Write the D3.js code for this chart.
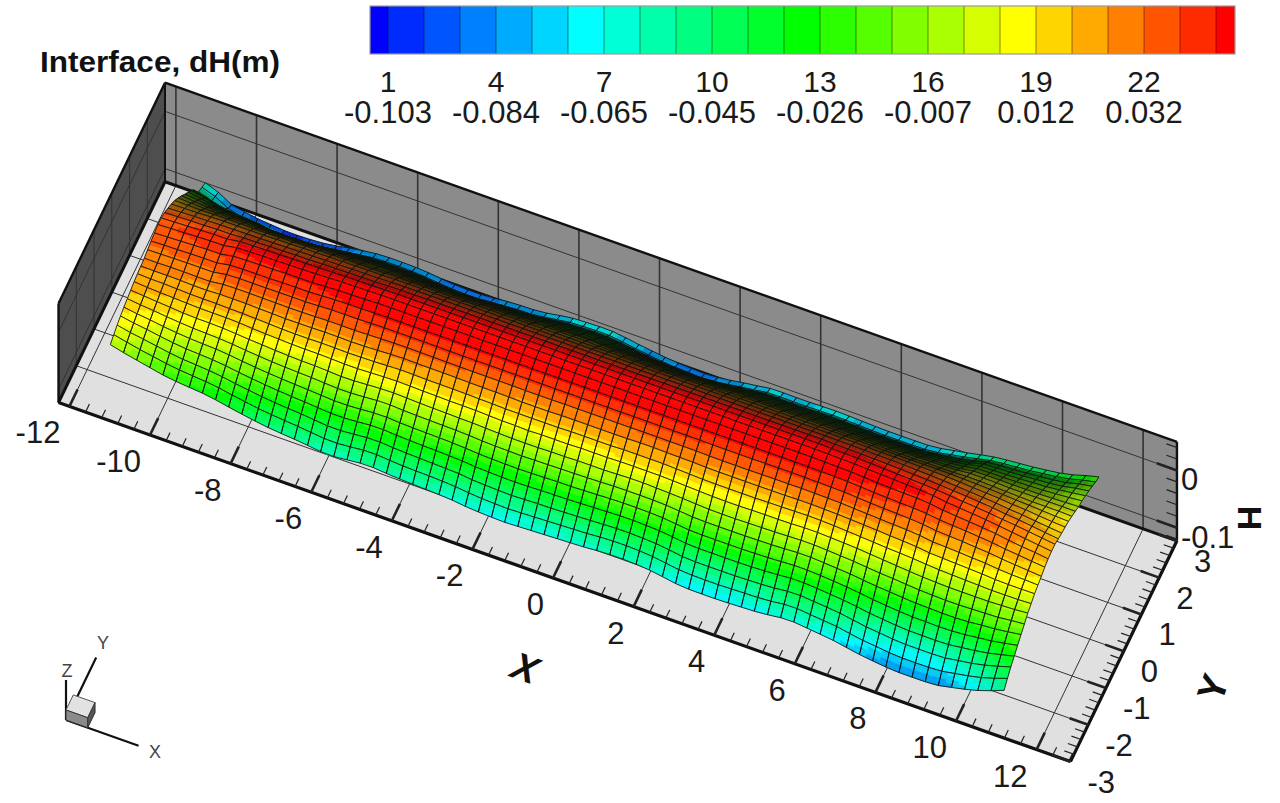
<!DOCTYPE html>
<html>
<head>
<meta charset="utf-8">
<script src="https://cdn.jsdelivr.net/npm/d3@7"></script>
<style>
  html, body { margin: 0; padding: 0; background: #fff; }
  svg { display: block; }
  text { font-family: "Liberation Sans", Arial, sans-serif; }
</style>
</head>
<body>
<svg id="app" width="1280" height="803"></svg>
<script>
// contour levels shown in the legend
const levelNumbers = [1, 4, 7, 10, 13, 16, 19, 22];
const levelLabels = ["-0.103", "-0.084", "-0.065", "-0.045", "-0.026", "-0.007", "0.012", "0.032"];
const levelValues = [-0.103, -0.0966, -0.0902, -0.0838, -0.0773, -0.0709, -0.0645, -0.0581, -0.0516, -0.0452, -0.0388, -0.0324, -0.0259, -0.0195, -0.0131, -0.0067, -0.0002, 0.0062, 0.0126, 0.0191, 0.0255, 0.0319, 0.0383, 0.0448];

const xTicks = [-12, -10, -8, -6, -4, -2, 0, 2, 4, 6, 8, 10, 12];
const yTicks = [-3, -2, -1, 0, 1, 2, 3];
const zTicks = [0, -0.1];

const meshX = d3.range(67).map(i => -11.05 + i * 0.336);
const meshY = d3.range(25).map(j => -2.85 + j * 0.2229);

const h00 = [-1,-7,-12,-17,-22,-25,-27,-29,-33,-38,-42,-46,-49,-51,-53,-56,-59,-57,-54,-52,-54,-56,-57,-58,-59,-60,-63,-65,-66,-67,-66,-65,-64,-63,-62,-61,-59,-58,-58,-59,-61,-65,-69,-70,-70,-70,-69,-68,-67,-64,-61,-63,-66,-68,-72,-77,-80,-83,-85,-85,-85,-84,-79,-74,-68,-60,-51];
const h01 = [5,0,-5,-9,-13,-16,-18,-20,-23,-28,-31,-35,-37,-39,-41,-44,-46,-45,-42,-40,-42,-44,-45,-45,-46,-47,-50,-52,-53,-54,-53,-52,-51,-50,-49,-48,-46,-45,-45,-46,-48,-52,-55,-56,-56,-56,-55,-54,-54,-51,-48,-50,-53,-54,-58,-63,-65,-68,-70,-70,-70,-69,-65,-61,-56,-49,-41];
const h02 = [10,5,2,-2,-6,-9,-10,-12,-15,-19,-22,-25,-27,-29,-30,-33,-35,-33,-31,-29,-31,-32,-33,-34,-35,-35,-38,-39,-40,-41,-40,-39,-39,-38,-37,-36,-35,-34,-34,-35,-36,-39,-43,-43,-43,-43,-43,-42,-41,-39,-36,-38,-40,-42,-45,-50,-52,-55,-57,-57,-57,-57,-53,-50,-45,-39,-32];
const h03 = [14,10,7,3,0,-2,-3,-4,-7,-10,-13,-15,-17,-19,-20,-22,-23,-22,-20,-18,-20,-21,-22,-22,-23,-24,-26,-27,-28,-28,-28,-27,-26,-26,-25,-24,-23,-22,-22,-23,-24,-27,-30,-30,-30,-30,-30,-29,-28,-26,-25,-26,-28,-30,-32,-36,-39,-41,-43,-43,-44,-43,-41,-38,-35,-30,-25];
const h04 = [17,14,12,9,7,5,4,3,1,-2,-4,-6,-7,-8,-9,-11,-12,-11,-9,-7,-9,-10,-10,-11,-11,-12,-14,-15,-15,-16,-15,-15,-14,-14,-13,-12,-11,-11,-11,-11,-12,-15,-17,-17,-17,-17,-17,-16,-16,-14,-13,-14,-16,-17,-20,-23,-25,-27,-29,-29,-30,-30,-29,-26,-24,-21,-17];
const h05 = [20,18,16,14,12,11,11,10,8,6,5,3,2,1,1,-1,-2,0,1,3,2,1,0,0,-1,-1,-2,-3,-4,-4,-4,-3,-3,-2,-2,-2,-1,0,0,-1,-2,-3,-5,-6,-6,-6,-5,-5,-4,-3,-2,-3,-5,-6,-8,-11,-12,-14,-16,-17,-18,-18,-17,-16,-15,-12,-10];
const h06 = [23,21,20,19,18,17,17,17,16,14,13,12,11,11,11,10,9,10,11,12,12,11,11,10,10,10,9,8,8,7,8,8,8,9,9,9,10,10,10,10,9,8,7,6,6,6,7,7,7,8,9,8,7,6,4,2,0,-2,-4,-5,-6,-6,-6,-6,-5,-4,-2];
const h07 = [25,24,24,23,22,22,22,21,21,20,19,18,18,18,19,18,18,19,19,21,21,20,20,20,20,19,19,18,18,18,18,18,19,19,19,19,20,20,20,20,19,18,17,17,17,17,17,18,18,19,19,18,17,15,14,12,11,10,8,6,5,4,3,2,2,2,3];
const h08 = [26,26,26,26,25,25,27,27,27,26,26,25,26,26,27,26,26,27,28,30,29,29,29,29,28,28,28,28,27,27,27,28,28,28,28,28,28,29,29,28,28,28,27,27,27,27,27,27,27,28,27,27,26,25,24,22,21,20,16,15,14,13,12,10,9,9,9];
const h09 = [28,28,29,29,29,29,34,34,34,34,34,34,34,35,36,35,36,37,37,37,37,37,36,36,36,36,36,36,36,36,36,36,36,36,36,36,36,36,36,36,36,36,35,35,35,35,36,36,36,36,35,35,34,32,31,30,29,28,24,23,22,20,19,16,14,13,11];
const h10 = [32,33,33,34,34,34,39,39,39,39,40,40,40,42,43,43,43,44,44,44,44,44,44,44,44,44,44,44,44,44,44,44,44,44,44,44,44,44,44,44,44,44,44,44,44,44,44,44,44,44,43,43,42,40,39,38,37,36,33,31,30,28,26,23,21,18,16];
const h11 = [34,35,36,37,38,38,43,43,44,44,45,45,45,47,48,48,49,50,50,50,50,50,50,50,50,50,50,50,50,50,50,50,50,50,50,50,50,50,50,50,50,50,50,50,50,50,50,50,50,50,49,49,48,46,45,44,44,43,39,37,35,33,31,27,24,22,19];
const h12 = [37,38,39,40,41,41,46,46,47,47,48,48,49,50,51,51,52,52,52,52,52,52,52,52,52,52,52,52,52,52,52,52,52,52,52,52,52,52,52,52,52,52,52,52,52,52,52,52,52,52,51,51,50,49,48,47,46,45,41,39,37,35,32,29,26,23,20];
const h13 = [36,37,38,39,40,40,44,44,45,45,46,46,47,47,48,48,48,49,49,49,49,49,49,49,49,49,49,49,49,49,49,49,49,49,49,49,49,49,49,49,49,49,49,49,49,49,49,49,49,49,48,48,47,46,45,44,43,42,40,38,36,34,31,29,26,23,20];
const h14 = [32,33,34,34,35,35,36,36,37,37,38,38,39,39,40,40,41,42,42,43,43,43,43,43,43,43,43,43,43,43,43,43,43,43,43,43,43,43,43,43,43,43,43,43,43,43,43,43,43,43,42,42,41,41,40,39,38,37,35,34,32,30,27,25,22,19,16];
const h15 = [26,27,28,29,30,30,30,30,31,31,32,32,33,33,34,34,34,35,35,35,35,35,35,35,35,35,35,35,35,35,35,35,35,35,35,35,35,35,35,35,35,35,35,35,35,35,35,35,35,35,35,35,34,34,34,33,32,31,30,28,26,25,22,21,18,16,14];
const h16 = [20,20,20,21,21,21,21,21,22,22,23,23,24,24,24,24,25,25,25,25,24,25,25,25,25,25,25,25,25,25,25,25,25,25,25,25,25,25,25,25,25,25,25,25,25,25,25,25,25,25,25,25,24,24,24,24,24,24,23,22,21,20,18,17,15,13,12];
const h17 = [11,10,9,9,9,9,8,8,9,9,10,11,11,11,11,11,12,12,12,12,12,12,12,13,13,13,13,14,14,14,14,13,13,13,12,12,12,12,12,13,13,13,14,14,14,14,14,14,14,13,13,13,12,12,12,12,12,12,13,13,12,11,10,9,9,9,8];
const h18 = [1,-1,-3,-4,-4,-4,-6,-6,-6,-6,-4,-3,-2,-2,-1,-1,-1,-1,-2,-2,-2,-2,-1,-1,-1,0,0,1,1,2,2,1,0,0,-1,-1,-2,-2,-1,-1,0,1,1,1,1,1,1,1,1,1,0,0,0,0,0,1,1,2,5,5,5,4,4,4,4,4,4];
const h19 = [-10,-12,-16,-17,-18,-18,-22,-22,-21,-21,-19,-18,-17,-16,-15,-15,-15,-16,-17,-17,-17,-16,-16,-15,-15,-15,-13,-12,-12,-12,-12,-13,-14,-15,-16,-16,-16,-17,-16,-15,-14,-13,-12,-12,-12,-12,-12,-12,-12,-13,-13,-13,-13,-13,-13,-12,-11,-10,-5,-4,-4,-4,-4,-4,-3,-2,-1];
const h20 = [-20,-24,-30,-32,-33,-34,-38,-38,-37,-37,-35,-32,-31,-30,-29,-29,-30,-30,-32,-32,-33,-32,-31,-30,-30,-29,-27,-25,-25,-24,-24,-26,-28,-29,-30,-31,-32,-32,-31,-30,-28,-27,-25,-25,-25,-25,-25,-25,-25,-26,-26,-26,-26,-26,-26,-24,-22,-20,-14,-13,-13,-12,-11,-10,-8,-6,-3];
const h21 = [-31,-36,-45,-47,-49,-51,-55,-55,-54,-53,-50,-47,-45,-44,-44,-44,-44,-45,-47,-47,-48,-47,-46,-44,-44,-43,-41,-38,-38,-37,-37,-39,-41,-43,-45,-46,-47,-47,-46,-44,-42,-40,-38,-38,-38,-38,-38,-38,-38,-39,-40,-40,-40,-40,-39,-36,-34,-31,-24,-23,-22,-21,-19,-18,-15,-11,-8];
const h22 = [-52,-60,-62,-64,-66,-67,-71,-71,-70,-69,-66,-62,-60,-58,-58,-58,-58,-60,-62,-63,-64,-62,-61,-59,-59,-58,-55,-52,-51,-50,-50,-52,-55,-58,-60,-61,-62,-63,-61,-59,-56,-54,-51,-52,-52,-52,-51,-51,-52,-52,-53,-53,-53,-53,-52,-49,-46,-42,-34,-32,-31,-29,-27,-25,-22,-16,-12];
const h23 = [-57,-65,-78,-85,-89,-92,-93,-93,-92,-90,-86,-79,-76,-73,-73,-73,-74,-76,-79,-80,-81,-79,-77,-75,-75,-73,-69,-65,-64,-63,-63,-66,-70,-73,-76,-78,-79,-80,-78,-75,-71,-68,-64,-65,-65,-65,-64,-64,-65,-66,-67,-67,-67,-67,-66,-61,-57,-52,-46,-43,-41,-39,-36,-33,-29,-23,-18];
const h24 = [-62,-71,-85,-89,-93,-95,-97,-97,-96,-94,-90,-85,-82,-79,-79,-79,-80,-82,-85,-86,-87,-85,-83,-81,-81,-79,-75,-71,-70,-69,-69,-72,-76,-79,-82,-84,-85,-86,-84,-81,-77,-74,-70,-71,-71,-71,-70,-70,-71,-72,-73,-73,-73,-73,-72,-67,-63,-58,-53,-50,-48,-46,-43,-40,-35,-28,-22];
const rows = [h00,h01,h02,h03,h04,h05,h06,h07,h08,h09,h10,h11,h12,h13,h14,h15,h16,h17,h18,h19,h20,h21,h22,h23,h24];

const xMin = -12.27, xMax = 12.84, yMin = -3, yMax = 3, zMin = -0.123, zMax = 0.05;

// oblique view: each axis adds its own screen offset
const xToPx = d3.scaleLinear().domain([-12, 12]).range([69.4, 1036.6]);
const xToPy = d3.scaleLinear().domain([-12, 12]).range([406.4, 749.6]);
const yToPx = d3.scaleLinear().domain([-3, 3]).range([0, 106.5]);
const yToPy = d3.scaleLinear().domain([-3, 3]).range([0, -220.8]);
const zToPy = d3.scaleLinear().domain([zMin, zMax]).range([0, -99]);
const project = (x, y, z) => [xToPx(x) + yToPx(y), xToPy(x) + yToPy(y) + zToPy(z)];

// 25 flood bands: blue, cyan, green, yellow, red
const rainbow = d3.scaleLinear().domain([0, 6, 12, 18, 24])
  .range(["#0000ff", "#00ffff", "#00ff00", "#ffff00", "#ff0000"]);
const bandOf = h => d3.bisectRight(levelValues, h);

const svg = d3.select("#app");
const line = d3.line();
const poly = pts => line(pts) + "Z";

const root = svg.append("g");

// ---- walls and floor
const box = root.append("g");
box.append("path")
  .attr("d", poly([project(xMin, yMin, zMin), project(xMin, yMax, zMin), project(xMin, yMax, zMax), project(xMin, yMin, zMax)]))
  .attr("fill", "#4e4e4e");
box.append("path")
  .attr("d", poly([project(xMin, yMax, zMin), project(xMax, yMax, zMin), project(xMax, yMax, zMax), project(xMin, yMax, zMax)]))
  .attr("fill", "#8b8b8b");
box.append("path")
  .attr("d", poly([project(xMin, yMin, zMin), project(xMax, yMin, zMin), project(xMax, yMax, zMin), project(xMin, yMax, zMin)]))
  .attr("fill", "#e0e0e0");

const gridLine = (a, b, w) => box.append("path")
  .attr("d", line([a, b])).attr("fill", "none").attr("stroke", "#333").attr("stroke-width", w);

xTicks.forEach(x => {
  gridLine(project(x, yMin, zMin), project(x, yMax, zMin), 1);
  gridLine(project(x, yMax, zMin), project(x, yMax, zMax), 1.6);
});
yTicks.forEach(y => {
  gridLine(project(xMin, y, zMin), project(xMax, y, zMin), 1);
  gridLine(project(xMin, y, zMin), project(xMin, y, zMax), 1);
});
zTicks.forEach(z => {
  gridLine(project(xMin, yMax, z), project(xMax, yMax, z), 1);
  gridLine(project(xMin, yMin, z), project(xMin, yMax, z), 1);
});

// thick frame edges
[
  [[xMin, yMin, zMin], [xMax, yMin, zMin], 3.2],
  [[xMax, yMin, zMin], [xMax, yMax, zMin], 3.2],
  [[xMin, yMin, zMin], [xMin, yMax, zMin], 3],
  [[xMin, yMax, zMin], [xMax, yMax, zMin], 3],
  [[xMin, yMin, zMax], [xMin, yMax, zMax], 2.4],
  [[xMin, yMax, zMax], [xMax, yMax, zMax], 2.4],
  [[xMin, yMin, zMin], [xMin, yMin, zMax], 2.4],
  [[xMin, yMax, zMin], [xMin, yMax, zMax], 2],
  [[xMax, yMax, zMin], [xMax, yMax, zMax], 2.4]
].forEach(e => box.append("path")
  .attr("d", line([project(...e[0]), project(...e[1])]))
  .attr("stroke", "#111").attr("stroke-width", e[2]).attr("fill", "none"));

// ---- ticks
const ticks = root.append("g").attr("stroke", "#222").attr("fill", "none");
const addTick = (a, b, w) => ticks.append("path").attr("d", line([a, b])).attr("stroke-width", w);

d3.range(-12, 12.84, 0.4).forEach(x => {
  const major = Math.abs(x / 2 - Math.round(x / 2)) < 0.01;
  addTick(project(x, yMin, zMin), project(x, yMin + (major ? 0.46 : 0.22), zMin), major ? 2.6 : 1.2);
});
d3.range(-3, 3.01, 0.2).forEach(y => {
  const major = Math.abs(y - Math.round(y)) < 0.01;
  addTick(project(xMax, y, zMin), project(xMax - (major ? 0.46 : 0.24), y, zMin), major ? 2.6 : 1.2);
});
d3.range(-0.12, 0.05, 0.02).forEach(z => {
  const major = Math.abs(z) < 0.001 || Math.abs(z + 0.1) < 0.001;
  addTick(project(xMax, yMax, z), project(xMax - (major ? 0.5 : 0.26), yMax, z), major ? 2.6 : 1.2);
});

// ---- surface
const nx = meshX.length, ny = meshY.length;
const H = (i, j) => rows[j][i] / 1000;
const zAspect = 29.2;                       // H unit in the same length as one x,y unit
const light = [0.06, -0.36, 0.93];

// lighting per station, from the slope of the surface
const shade = rows.map((r, j) => r.map((v, i) => {
  const i0 = Math.max(i - 1, 0), i1 = Math.min(i + 1, nx - 1);
  const j0 = Math.max(j - 1, 0), j1 = Math.min(j + 1, ny - 1);
  const gx = (H(i1, j) - H(i0, j)) / (meshX[i1] - meshX[i0]) * zAspect;
  const gy = (H(i, j1) - H(i, j0)) / (meshY[j1] - meshY[j0]) * zAspect;
  const dot = (-gx * light[0] - gy * light[1] + light[2]) / Math.sqrt(gx * gx + gy * gy + 1);
  return Math.max(0.16, Math.min(1, (dot - 0.02) / 0.76));
}));

// read a table of stations at any x, y
const at = (table, x, y) => {
  const i = Math.min(Math.max(d3.bisectRight(meshX, x) - 1, 0), nx - 2);
  const j = Math.min(Math.max(d3.bisectRight(meshY, y) - 1, 0), ny - 2);
  const u = (x - meshX[i]) / (meshX[i + 1] - meshX[i]);
  const v = (y - meshY[j]) / (meshY[j + 1] - meshY[j]);
  return (table(i, j) * (1 - u) + table(i + 1, j) * u) * (1 - v) + (table(i, j + 1) * (1 - u) + table(i + 1, j + 1) * u) * v;
};
const heightAt = (x, y) => at(H, x, y);
const shadeAt = (x, y) => at((i, j) => shade[j][i], x, y);

// the wire mesh of the plot is a bit finer than the read-off table
const wireNx = 68, wireNy = 28;
const wireX = d3.scaleLinear().domain([0, wireNx]).range([meshX[0], meshX[nx - 1]]);
const wireY = d3.scaleLinear().domain([0, wireNy]).range([meshY[0], meshY[ny - 1]]);
const rimY = meshY[ny - 2], yTop = meshY[ny - 1];

const subX = 2, subY = 4;
const shapes = [];

// back to front, one row at a time: fills first, then that row's mesh lines
for (let j = wireNy - 1; j >= 0; j--) {
  const outlines = [];
  const y0 = wireY(j), y1 = wireY(j + 1);
  for (let i = 0; i < wireNx; i++) {
    const x0 = wireX(i), x1 = wireX(i + 1);
    const pt = (u, v) => {
      const x = x0 + (x1 - x0) * u, y = y0 + (y1 - y0) * v;
      return project(x, y, heightAt(x, y));
    };
    for (let b = subY - 1; b >= 0; b--) {
      for (let a = 0; a < subX; a++) {
        const mx = x0 + (x1 - x0) * (a + 0.5) / subX, my = y0 + (y1 - y0) * (b + 0.5) / subY;
        const rim = my > rimY;
        const h = heightAt(mx, rim ? yTop : my);
        // the rim stays lit in the original, also the few rows at the raised back corner
        let s = shadeAt(mx, my);
        if (rim) s = 0.82;
        else if (my > meshY[ny - 4] && mx < meshX[6]) s = 0.65;
        const c = d3.rgb(rainbow(bandOf(h)));
        const col = d3.rgb(c.r * s, c.g * s, c.b * s).formatHex();
        shapes.push({
          d: poly([pt(a / subX, b / subY), pt((a + 1) / subX, b / subY), pt((a + 1) / subX, (b + 1) / subY), pt(a / subX, (b + 1) / subY)]),
          fill: col, stroke: col, w: 0.5
        });
      }
    }
    outlines.push({ d: poly([pt(0, 0), pt(1, 0), pt(1, 1), pt(0, 1)]), fill: "none", stroke: "#111", w: 0.85 });
  }
  shapes.push(...outlines);
}

root.append("g").selectAll("path").data(shapes).join("path")
  .attr("d", d => d.d)
  .attr("fill", d => d.fill)
  .attr("stroke", d => d.stroke)
  .attr("stroke-width", d => d.w)
  .attr("stroke-linejoin", "round");

// ---- tick labels
const labels = root.append("g").attr("fill", "#1a1a1a").attr("font-size", 31);
xTicks.forEach(x => {
  const p = project(x, yMin, zMin);
  labels.append("text").attr("x", p[0] - 9).attr("y", p[1] + 37).attr("text-anchor", "end").text(x);
});
yTicks.forEach(y => {
  const p = project(xMax, y, zMin);
  labels.append("text").attr("x", p[0] + 17).attr("y", p[1] + 31).text(y);
});
zTicks.forEach(z => {
  const p = project(xMax, yMax, z);
  labels.append("text").attr("x", p[0] + 4).attr("y", p[1] + 20).text(z);
});

const titles = root.append("g").attr("fill", "#111").attr("font-weight", "bold");
titles.append("text").attr("x", 40).attr("y", 72).attr("font-size", 29)
  .attr("textLength", 240).attr("lengthAdjust", "spacingAndGlyphs").text("Interface, dH(m)");
titles.append("text").attr("transform", "translate(525,668) rotate(20)").attr("text-anchor", "middle").attr("dy", 13)
  .attr("font-size", 38).attr("font-style", "italic").text("X");
titles.append("text").attr("transform", "translate(1213,688) rotate(-70)").attr("text-anchor", "middle").attr("dy", 13)
  .attr("font-size", 38).text("Y");
titles.append("text").attr("transform", "translate(1250,518) rotate(90)").attr("text-anchor", "middle").attr("dy", 12)
  .attr("font-size", 34).text("H");

// ---- legend
const levelX = d3.scaleLinear().domain([1, 24]).range([388, 1216]);
const legendTop = 6, legendBottom = 54;
const bandEdges = [370].concat(levelValues.map((v, k) => levelX(k + 1)), [1235]);
const legend = root.append("g");
legend.selectAll("rect").data(d3.range(25)).join("rect")
  .attr("x", k => bandEdges[k]).attr("y", legendTop)
  .attr("width", k => bandEdges[k + 1] - bandEdges[k]).attr("height", legendBottom - legendTop)
  .attr("fill", k => rainbow(k));
legend.selectAll("line").data(levelValues).join("line")
  .attr("x1", (v, k) => levelX(k + 1)).attr("x2", (v, k) => levelX(k + 1))
  .attr("y1", legendTop).attr("y2", legendBottom)
  .attr("stroke", "#000").attr("stroke-opacity", 0.45).attr("stroke-width", 1);
legend.append("rect").attr("x", 370).attr("y", legendTop).attr("width", 865).attr("height", legendBottom - legendTop)
  .attr("fill", "none").attr("stroke", "#999").attr("stroke-width", 1.2);
levelNumbers.forEach((n, k) => {
  legend.append("text").attr("x", levelX(n)).attr("y", 92).attr("text-anchor", "middle")
    .attr("font-size", 30).attr("fill", "#1a1a1a").text(n);
  legend.append("text").attr("x", levelX(n)).attr("y", 123).attr("text-anchor", "middle")
    .attr("font-size", 31).attr("fill", "#1a1a1a").text(levelLabels[k]);
});

// ---- orientation triad
const ox = 66, oy = 720;
const triad = root.append("g");
const ex = [xToPx(1) - xToPx(0), xToPy(1) - xToPy(0)], ey = [yToPx(1) - yToPx(0), yToPy(1) - yToPy(0)];
[[ex[0] * 1.8, ex[1] * 1.8], [ey[0] * 1.7, ey[1] * 1.7], [0, -40]].forEach(v => {
  triad.append("path").attr("d", line([[ox, oy], [ox + v[0], oy + v[1]]])).attr("stroke", "#111").attr("stroke-width", 2.2).attr("fill", "none");
});
const a = [ex[0] * 0.54, ex[1] * 0.54], b = [ey[0] * 0.41, ey[1] * 0.41], c = [0, -10];
const add = (...vs) => [ox + d3.sum(vs, v => v[0]), oy + d3.sum(vs, v => v[1])];
triad.append("path").attr("d", poly([add(c), add(a, c), add(a, b, c), add(b, c)])).attr("fill", "#e2e2e2").attr("stroke", "#555");
triad.append("path").attr("d", poly([add(), add(a), add(a, c), add(c)])).attr("fill", "#8a8a8a").attr("stroke", "#333");
triad.append("path").attr("d", poly([add(a), add(a, b), add(a, b, c), add(a, c)])).attr("fill", "#555").attr("stroke", "#333");
[["X", 155, 758], ["Y", 103, 649], ["Z", 67, 677]].forEach(t => {
  triad.append("text").attr("x", t[1]).attr("y", t[2]).attr("text-anchor", "middle")
    .attr("font-size", 18).attr("fill", "#444").text(t[0]);
});
</script>
</body>
</html>
